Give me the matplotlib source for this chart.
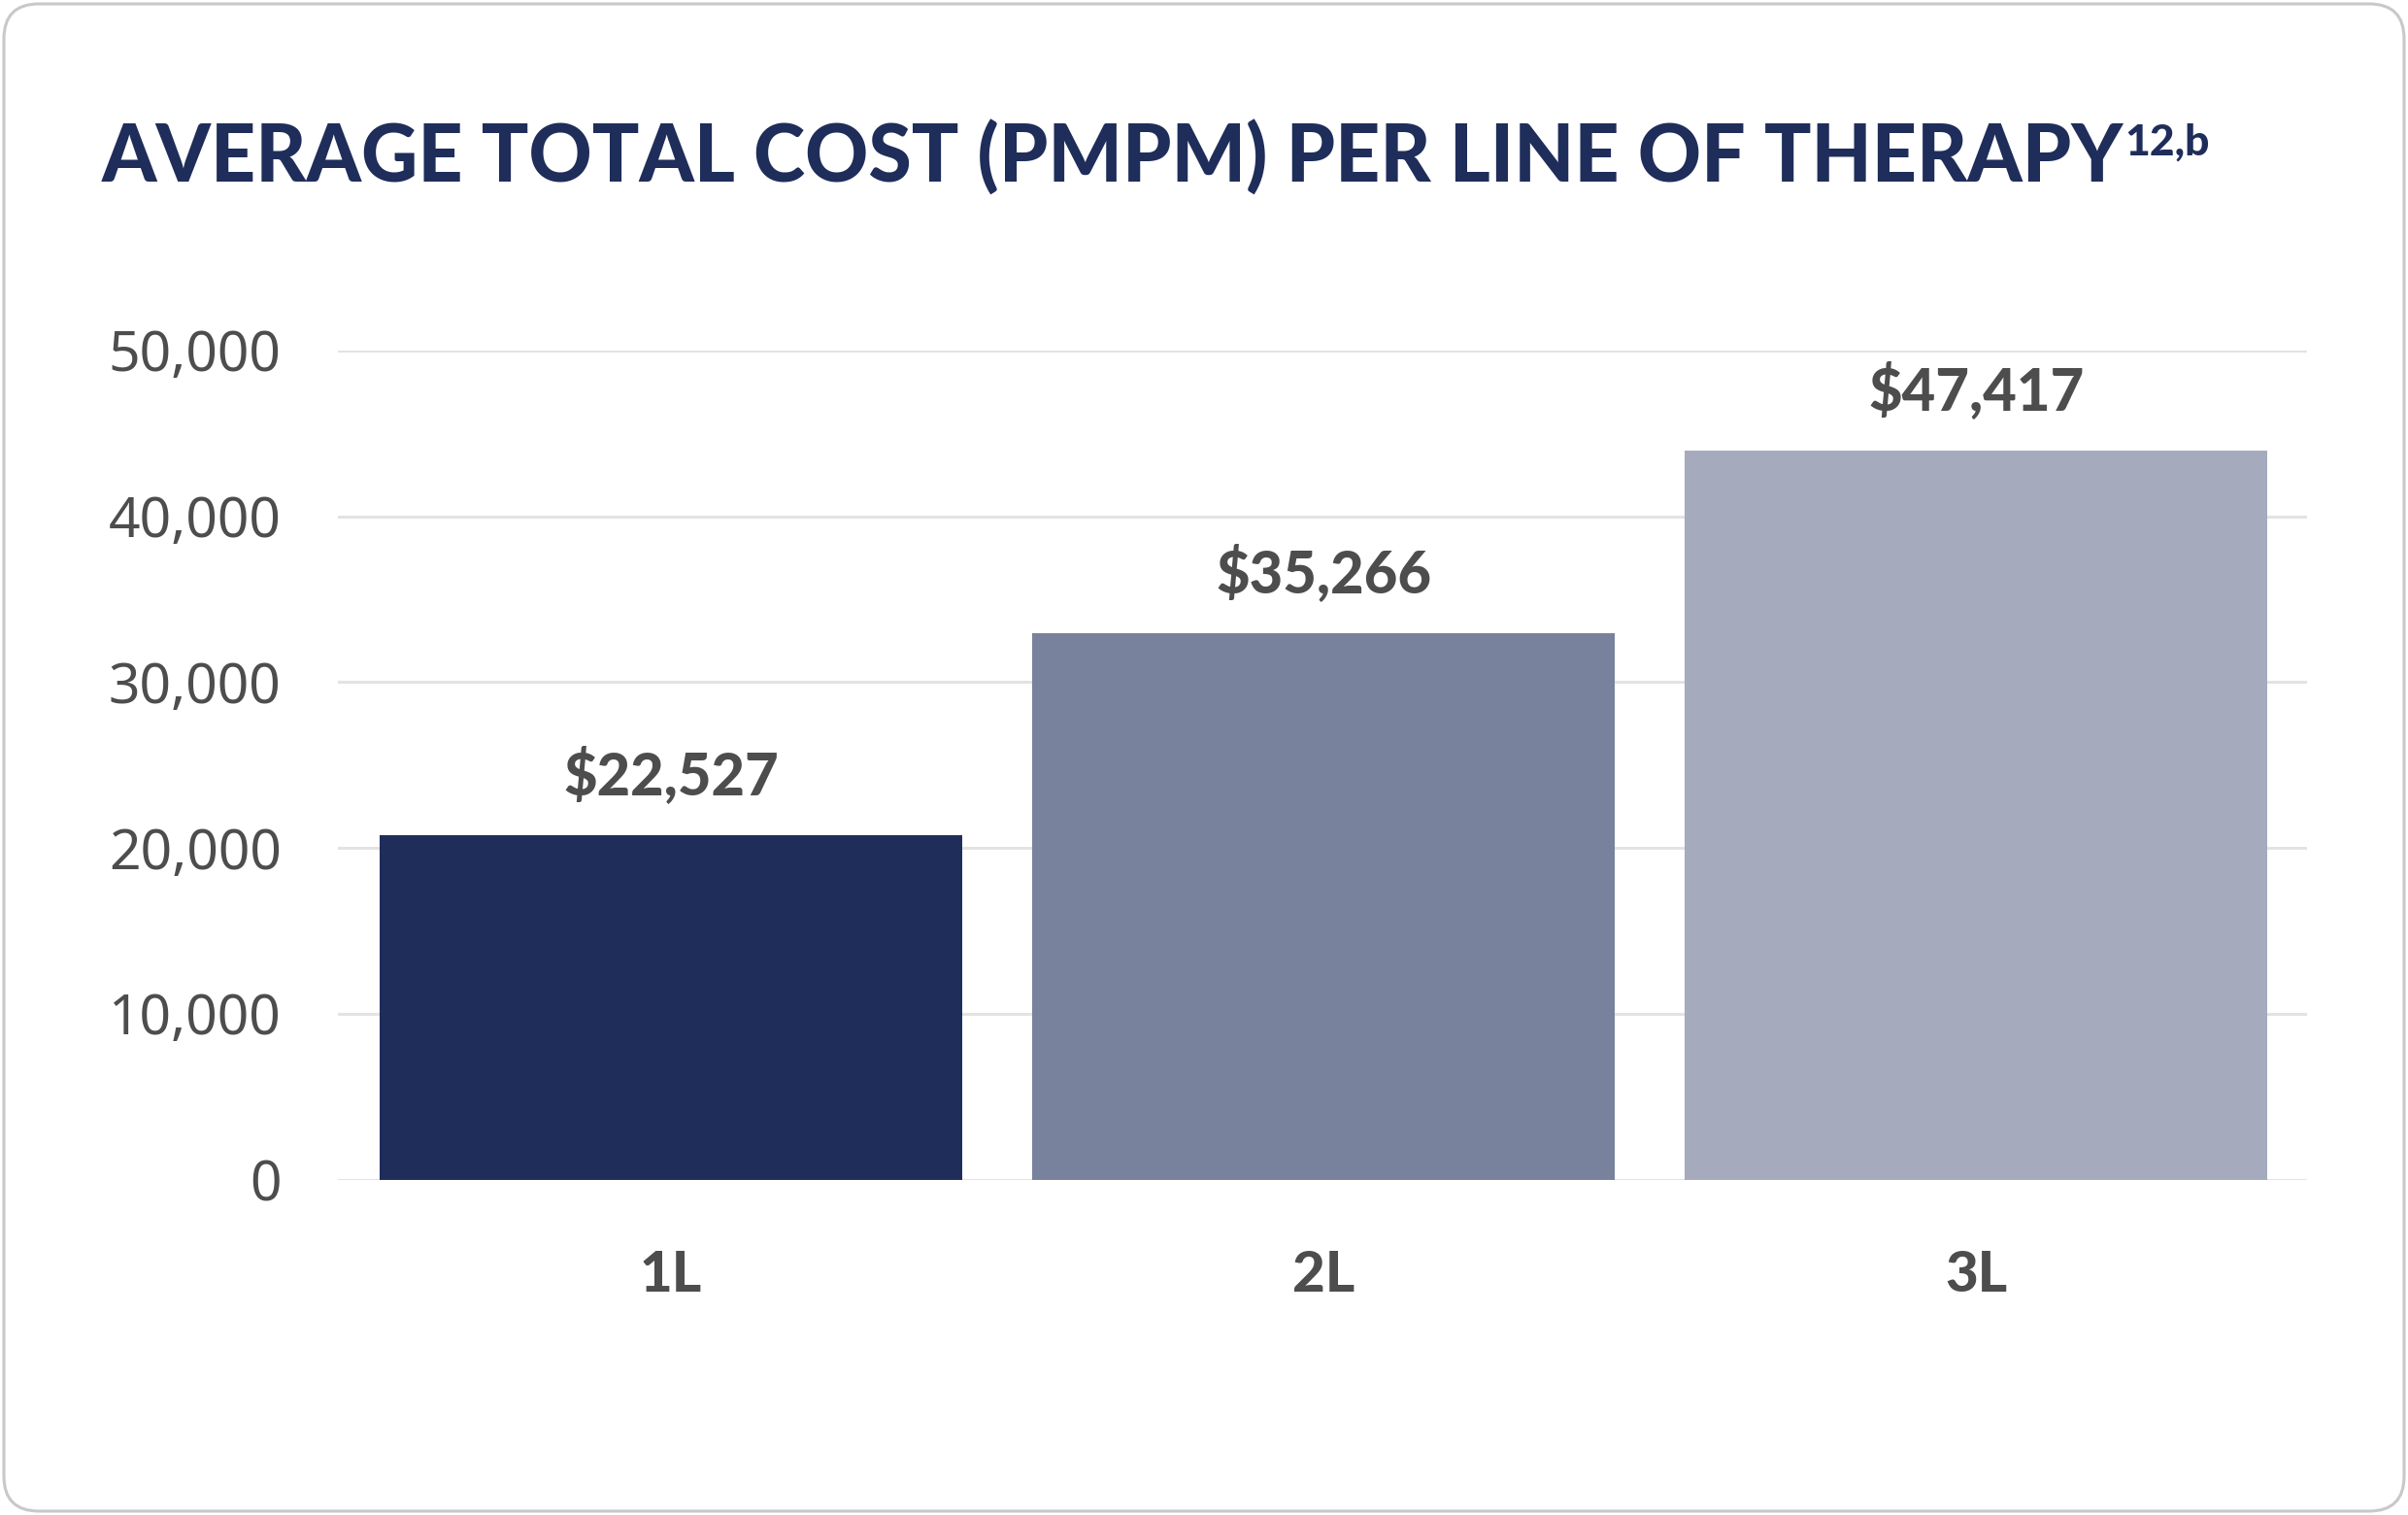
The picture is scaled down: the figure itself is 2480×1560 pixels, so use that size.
import matplotlib
matplotlib.use("Agg")
import matplotlib.pyplot as plt
from matplotlib.patches import FancyBboxPatch

# data
lines = ["1L", "2L", "3L"]
bar_heights = [20770, 32970, 43960]
bar_labels = ["$22,527", "$35,266", "$47,417"]
bar_colors = ["#1f2d5a", "#79829c", "#a5aabd"]
y_ticks = [0, 10000, 20000, 30000, 40000, 50000]

title = "AVERAGE TOTAL COST (PMPM) PER LINE OF THERAPY"
title_sup = "12,b"

navy = "#1f2d5a"
grey_text = "#4d4d4d"

W, H = 2480, 1560
fig = plt.figure(figsize=(W / 100, H / 100), dpi=100)
fig.patch.set_facecolor("white")

# card border in pixel units
bg = fig.add_axes([0, 0, 1, 1], zorder=-1)
bg.set_xlim(0, W)
bg.set_ylim(H, 0)
bg.axis("off")
bg.add_patch(FancyBboxPatch((4, 4), W - 8, H - 8,
                            boxstyle="round,pad=0,rounding_size=36",
                            facecolor="white", edgecolor="#c8c8c8", linewidth=2.2))

# title with superscript
t = fig.text(105 / W, 1 - 188 / H, title, fontsize=58, fontweight="black",
             family=["Lato", "DejaVu Sans"], color=navy, ha="left", va="baseline")
fig.canvas.draw()
ext = t.get_window_extent(fig.canvas.get_renderer())
fig.text((ext.x1 + 1) / W, 1 - 160 / H, title_sup, fontsize=32, fontweight="black",
         family=["Lato", "DejaVu Sans"], color=navy, ha="left", va="baseline")

ax = fig.add_axes([348 / W, 1 - 1214.7 / H, (2376 - 348) / W, (1214.7 - 361) / H])
x = range(len(lines))
bars = ax.bar(x, bar_heights, width=0.892, color=bar_colors, zorder=3)

ax.set_xlim(-0.51, 2.507)
ax.set_ylim(0, 50000)
ax.set_yticks(y_ticks)
ax.set_yticklabels([f"{v:,}" for v in y_ticks])
ax.yaxis.grid(True, color="#e3e3e3", linewidth=2.2, zorder=0)
ax.set_xticks(list(x))
ax.set_xticklabels(lines)
for s in ax.spines.values():
    s.set_visible(False)
ax.tick_params(axis="y", length=0, pad=42, labelsize=41, labelcolor=grey_text)
ax.tick_params(axis="x", length=0, pad=52, labelsize=42, labelcolor=grey_text)
for lab in ax.get_yticklabels():
    lab.set_family(["Noto Sans", "DejaVu Sans"])
for lab in ax.get_xticklabels():
    lab.set_family(["Lato", "DejaVu Sans"])
    lab.set_fontweight("black")

for b, txt in zip(bars, bar_labels):
    ax.annotate(txt, (b.get_x() + b.get_width() / 2, b.get_height()),
                xytext=(0, 23), textcoords="offset points", ha="center", va="bottom",
                fontsize=43, fontweight="black", family=["Lato", "DejaVu Sans"],
                color=grey_text)

fig.savefig("out.png", dpi=100, facecolor="white")
